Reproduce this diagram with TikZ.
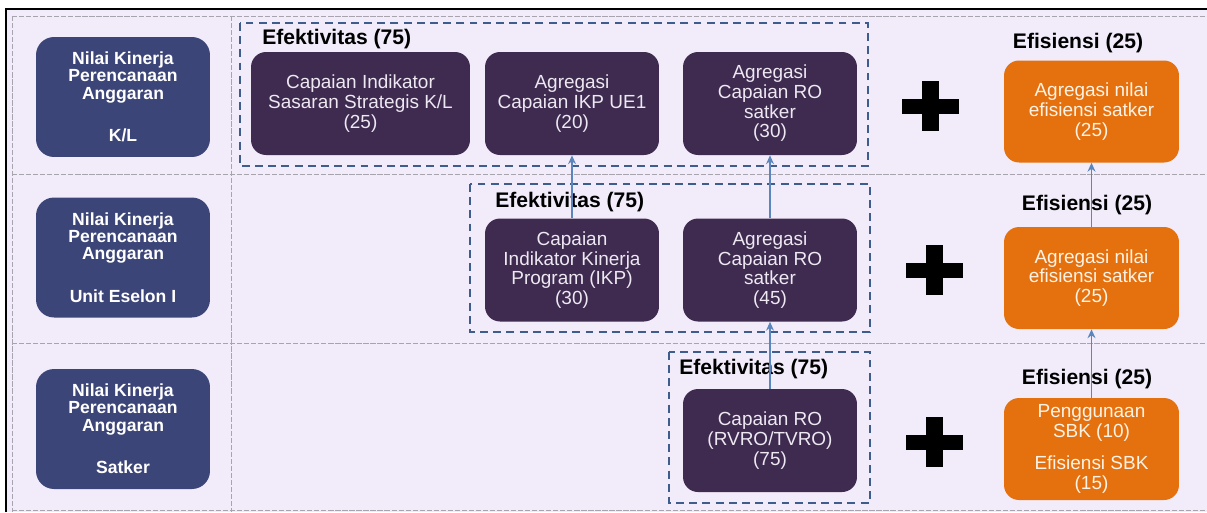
\documentclass[tikz,border=0pt]{standalone}
\usepackage{fontspec}
\setmainfont{Liberation Sans}
\usetikzlibrary{arrows.meta}
\definecolor{bgl}{HTML}{F2ECFA}
\definecolor{lbox}{HTML}{3C4577}
\definecolor{pbox}{HTML}{3E2B4F}
\definecolor{obox}{HTML}{E5700E}
\definecolor{dashc}{HTML}{3F5D8C}
\definecolor{arrc}{HTML}{5B85BD}
\definecolor{gridc}{HTML}{A8A4AE}
\definecolor{ptext}{HTML}{EDE8F2}
\definecolor{otext}{HTML}{FFF3E6}
\tikzset{
  levelbox/.style={fill=lbox, rounded corners=0.36cm, text=white, align=center,
    font=\fontsize{10}{9.8}\selectfont\bfseries, inner sep=0pt,
    minimum width=3.48cm, minimum height=2.4cm},
  pbx/.style={fill=pbox, rounded corners=0.3cm, text=ptext, align=center,
    font=\fontsize{10.8}{11.2}\selectfont, inner sep=0pt, minimum height=2.06cm},
  obx/.style={fill=obox, rounded corners=0.3cm, text=otext, align=center,
    font=\fontsize{10.8}{11.2}\selectfont, inner sep=0pt,
    minimum width=3.5cm, minimum height=2.04cm},
  grp/.style={draw=dashc, line width=1.2pt, dash pattern=on 4.5pt off 3pt},
  ttl/.style={font=\fontsize{12}{12}\selectfont\bfseries, text=black, inner sep=0pt},
  gridl/.style={draw=gridc, line width=0.4pt, dash pattern=on 3pt off 1pt},
  up/.style={draw=arrc, line width=0.8pt, -{Stealth[length=5pt,width=4.5pt]}}
}
\begin{document}
\begin{tikzpicture}[x=0.02cm,y=-0.02cm]
\useasboundingbox (0,0) rectangle (1207,512);
\fill[white] (0,0) rectangle (1207,512);
\fill[bgl] (7,10) rectangle (1207,512);
% grid
\draw[gridl] (12,16) -- (1207,16);
\draw[gridl] (12,174) -- (1207,174);
\draw[gridl] (12,343) -- (1207,343);
\draw[gridl] (12,510) -- (1207,510);
\draw[gridl] (12,16) -- (12,512);
\draw[gridl] (231,16) -- (231,512);
% frame
\draw[black, line width=1.3pt] (6,512) -- (6,9) -- (1207,9);
% groups
\draw[grp] (240,23) rectangle (868,166);
\draw[grp] (470,184) rectangle (870,332);
\draw[grp] (669,352) rectangle (870,503);
% left level boxes
\node[levelbox] (kl) at (123,97) {Nilai Kinerja\\Perencanaan\\Anggaran\\[14.5pt]K/L};
\node[levelbox] (ue) at (123,257.5) {Nilai Kinerja\\Perencanaan\\Anggaran\\[14.5pt]Unit Eselon I};
\node[levelbox] (sk) at (123,429) {Nilai Kinerja\\Perencanaan\\Anggaran\\[14.5pt]Satker};
% row 1
\node[pbx, minimum width=4.38cm] (a1) at (360.5,103.5) {Capaian Indikator\\Sasaran Strategis K/L\\(25)};
\node[pbx, minimum width=3.48cm] (a2) at (572,103.5) {Agregasi\\Capaian IKP UE1\\(20)};
\node[pbx, minimum width=3.48cm] (a3) at (770,103.5) {Agregasi\\Capaian RO\\satker\\(30)};
\node[obx] (o1) at (1091.5,111.5) {Agregasi nilai\\efisiensi satker\\(25)};
% row 2
\node[pbx, minimum width=3.48cm] (b1) at (572,270) {Capaian\\Indikator Kinerja\\Program (IKP)\\(30)};
\node[pbx, minimum width=3.48cm] (b2) at (770,270) {Agregasi\\Capaian RO\\satker\\(45)};
\node[obx] (o2) at (1091.5,278) {Agregasi nilai\\efisiensi satker\\(25)};
% row 3
\node[pbx, minimum width=3.48cm] (c1) at (770,440.5) {Capaian RO\\(RVRO/TVRO)\\(75)};
\node[obx] (o3) at (1091.5,449) {Penggunaan\\SBK (10)\\[7pt]Efisiensi SBK\\(15)};
% titles
\node[ttl, anchor=west] (t1) at (262,39) {Efektivitas (75)};
\node[ttl, anchor=west] (t2) at (495,202) {Efektivitas (75)};
\node[ttl, anchor=west] (t3) at (679,369) {Efektivitas (75)};
\node[ttl] (e1) at (1078,43) {Efisiensi (25)};
\node[ttl] (e2) at (1087,205) {Efisiensi (25)};
\node[ttl] (e3) at (1087,379) {Efisiensi (25)};
% arrows
\draw[up] (b1.north) -- (a2.south);
\draw[up] (b2.north) -- (a3.south);
\draw[up] (c1.north) -- (b2.south);
\draw[up] (o2.north) -- (o1.south);
\draw[up] (o3.north) -- (o2.south);
% plus signs
\foreach \cx/\cy in {930/106, 934/270, 934/442} {
  \begin{scope}[shift={(\cx,\cy)}]
    \fill[black] (-28.5,-7.5) rectangle (28.5,7.5);
    \fill[black] (-8.5,-25) rectangle (8.5,25);
  \end{scope}
}
\end{tikzpicture}
\end{document}
